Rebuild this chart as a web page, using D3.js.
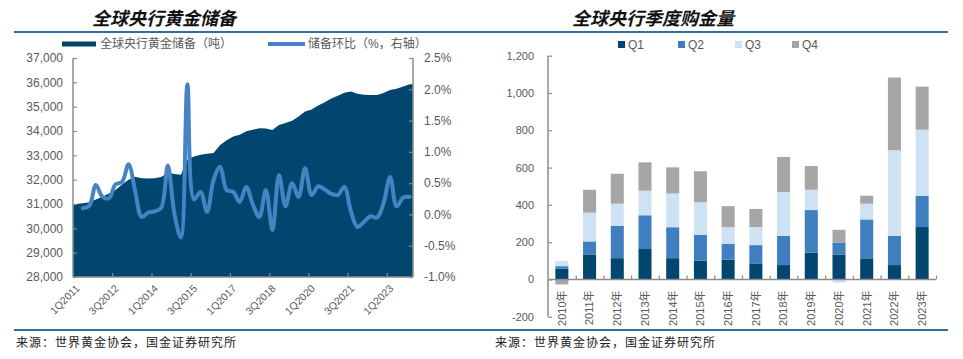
<!DOCTYPE html>
<html><head><meta charset="utf-8">
<script src="https://cdn.jsdelivr.net/npm/d3@7"></script>
<style>
body{margin:0;background:#fff;}
svg{display:block;}
text{font-family:"Liberation Sans","Noto Sans CJK SC",Arial,sans-serif;fill:#595959;}
</style></head><body>
<svg id="c" width="963" height="359"></svg>
<script>
// ---------- DATA ----------
const reserveYears = [2011,2012,2013,2014,2015,2016,2017,2018,2019,2020,2021,2022,2023];
const reserves = [31000,31030,31070,31180,31300,31430,31580,31800,32000,32120,32060,32050,32060,32110,32290,32230,
  32200,32820,32950,33020,33070,33100,33420,33620,33770,33850,33990,34050,34110,34100,34040,34250,
  34330,34420,34600,34800,34880,35050,35180,35340,35450,35570,35620,35530,35490,35480,35480,35560,
  35690,35740,35830,35920];
const qoq = [null,0.10,0.14,0.47,0.28,0.26,0.48,0.52,0.80,0.38,-0.04,0.03,0.05,0.11,0.78,0.02,
  -0.37,2.08,0.24,0.36,0.04,0.55,0.76,0.39,0.36,0.20,0.44,0.16,-0.04,0.39,-0.25,0.63,
  0.13,0.50,0.28,0.74,0.31,0.45,0.40,0.33,0.31,0.44,0.05,-0.20,-0.12,-0.03,-0.05,0.18,
  0.60,0.13,0.27,0.28];
const xTickLabels = ["1Q2011","3Q2012","1Q2014","3Q2015","1Q2017","3Q2018","1Q2020","3Q2021","1Q2023"];
const leftTicks = [28000,29000,30000,31000,32000,33000,34000,35000,36000,37000];
const rightTicks = [-1.0,-0.5,0.0,0.5,1.0,1.5,2.0,2.5];

const years = ["2010年","2011年","2012年","2013年","2014年","2015年","2016年","2017年","2018年","2019年","2020年","2021年","2022年","2023年"];
const q1 = [57,134,114,163,114,100,106,86,77,143,134,113,77,281];
const q2 = [14,70,174,181,166,140,86,98,156,229,64,209,156,168];
const q3 = [27,154,118,132,181,174,88,97,236,109,-18,84,460,354];
const q4 = [-27,123,161,152,140,166,113,97,188,127,68,43,390,231];
const seriesNames = ["Q1","Q2","Q3","Q4"];
const barTicks = [-200,0,200,400,600,800,1000,1200];

// ---------- STYLE ----------
const C_AREA="#00466e", C_LINE="#4583c4", AXIS="#8c8c8c", RULE="#2f6f9c";
const barColors = ["#00466e","#3f7fc0","#cfe2f3","#a6a6a6"];

const svg = d3.select("#c");

// quarters (categories)
const quarters = [];
reserveYears.forEach(y=>{for(let q=1;q<=4;q++) quarters.push(q+"Q"+y);});

// ---------- header / footer rules ----------
svg.append("line").attr("x1",14).attr("x2",948).attr("y1",32).attr("y2",32).attr("stroke",RULE).attr("stroke-width",2);
svg.append("line").attr("x1",14).attr("x2",948).attr("y1",330).attr("y2",330).attr("stroke",RULE).attr("stroke-width",2);

const titleStyle = t=>t.attr("text-anchor","middle").attr("font-size",18).attr("font-weight",700)
  .attr("font-style","italic").style("fill","#111").style("font-family","'Noto Sans CJK SC',sans-serif");
svg.append("text").attr("x",164).attr("y",25).text("全球央行黄金储备").call(titleStyle);
svg.append("text").attr("x",653).attr("y",25).text("全球央行季度购金量").call(titleStyle);

const srcStyle = t=>t.attr("font-size",12).style("fill","#222").style("letter-spacing","1px")
  .style("font-family","'Noto Sans CJK SC',sans-serif");
svg.append("text").attr("x",16).attr("y",347).text("来源：世界黄金协会，国金证券研究所").call(srcStyle);
svg.append("text").attr("x",495).attr("y",347).text("来源：世界黄金协会，国金证券研究所").call(srcStyle);

// ---------- LEFT CHART ----------
const L = {x0:73,x1:413,y0:58,y1:277};
const xi = d3.scaleLinear().domain([0,quarters.length]).range([L.x0,L.x1]);
const yL = d3.scaleLinear().domain([28000,37000]).range([L.y1,L.y0]);
const yR = d3.scaleLinear().domain([-1.0,2.5]).range([L.y1,L.y0]);

const areaPts = [{x:0,v:reserves[0]}].concat(reserves.map((v,i)=>({x:i+0.5,v}))).concat([{x:quarters.length,v:reserves[reserves.length-1]}]);
svg.append("path").datum(areaPts)
  .attr("d",d3.area().x(d=>xi(d.x)).y0(yL(28000)).y1(d=>yL(d.v)).curve(d3.curveLinear))
  .attr("fill",C_AREA);

const linePts = qoq.map((v,i)=>({x:i+0.5,v})).filter(d=>d.v!==null);
svg.append("path").datum(linePts)
  .attr("d",d3.line().x(d=>xi(d.x)).y(d=>yR(d.v)).curve(d3.curveCatmullRom.alpha(0.5)))
  .attr("fill","none").attr("stroke",C_LINE).attr("stroke-width",4).attr("stroke-linecap","round").attr("stroke-linejoin","round");

// left y axis
const gyl = svg.append("g").attr("transform",`translate(${L.x0},0)`)
  .call(d3.axisLeft(yL).tickValues(leftTicks).tickSize(-4).tickPadding(10).tickFormat(d3.format(",")));
// right y axis
const gyr = svg.append("g").attr("transform",`translate(${L.x1},0)`)
  .call(d3.axisRight(yR).tickValues(rightTicks).tickSize(-4).tickPadding(11)
    .tickFormat(d=>d3.format(".1f")(d).replace("−","-")+"%"));
// bottom axis (ticks between categories every 6)
const gxl = svg.append("g").attr("transform",`translate(0,${L.y1})`)
  .call(d3.axisBottom(xi).tickValues(d3.range(6,quarters.length,6)).tickSize(-4).tickFormat(""));
[gyl,gyr,gxl].forEach(g=>{
  g.select(".domain").attr("stroke",AXIS).attr("stroke-width",1.5);
  g.selectAll(".tick line").attr("stroke",AXIS).attr("stroke-width",1.2);
  g.selectAll("text").attr("font-size",12).style("fill","#595959").style("font-family","'Liberation Sans',Arial,sans-serif");
});
gxl.select(".domain").attr("d",`M${L.x0},0H${L.x1}`);
gyl.select(".domain").attr("d",`M0,${L.y0}V${L.y1}`);
gyr.select(".domain").attr("d",`M0,${L.y0}V${L.y1}`);

// rotated quarter labels
svg.append("g").selectAll("text").data(xTickLabels).join("text")
  .attr("transform",d=>`translate(${xi(quarters.indexOf(d)+0.5)+4},${L.y1+12}) rotate(-45)`)
  .attr("text-anchor","end").attr("font-size",10.5).text(d=>d);

// left legend
svg.append("rect").attr("x",62).attr("y",41.5).attr("width",34).attr("height",5).attr("fill",C_AREA);
svg.append("text").attr("x",100).attr("y",48).attr("font-size",12).text("全球央行黄金储备（吨）");
svg.append("line").attr("x1",268).attr("x2",305).attr("y1",44).attr("y2",44).attr("stroke",C_LINE).attr("stroke-width",4);
svg.append("text").attr("x",308).attr("y",48).attr("font-size",12).text("储备环比（%，右轴）");

// ---------- RIGHT CHART ----------
const R = {x0:548,x1:936,y0:55.7,y1:316.7};
const xb = d3.scaleBand().domain(years).range([R.x0,R.x1]).paddingInner(0.53).paddingOuter(0.265);
const yb = d3.scaleLinear().domain([-200,1200]).range([R.y1,R.y0]);
const rows = years.map((y,i)=>({year:y,Q1:q1[i],Q2:q2[i],Q3:q3[i],Q4:q4[i]}));
const stacked = d3.stack().keys(seriesNames).offset(d3.stackOffsetDiverging)(rows);

svg.append("g").selectAll("g").data(stacked).join("g").attr("fill",(d,i)=>barColors[i])
  .selectAll("rect").data(d=>d).join("rect")
  .attr("x",d=>xb(d.data.year)).attr("width",xb.bandwidth())
  .attr("y",d=>yb(Math.max(d[0],d[1]))).attr("height",d=>Math.abs(yb(d[0])-yb(d[1])));

const xbi = d3.scaleLinear().domain([0,years.length]).range([R.x0,R.x1]);
const gby = svg.append("g").attr("transform",`translate(${R.x0},0)`)
  .call(d3.axisLeft(yb).tickValues(barTicks).tickSize(-4).tickPadding(14)
    .tickFormat(d=>d3.format(",")(d).replace("−","-")));
const gbx = svg.append("g").attr("transform",`translate(0,${yb(0)})`)
  .call(d3.axisBottom(xbi).tickValues(d3.range(1,years.length+1)).tickSize(-4).tickFormat(""));
[gby,gbx].forEach(g=>{
  g.select(".domain").attr("stroke",AXIS).attr("stroke-width",1.5);
  g.selectAll(".tick line").attr("stroke",AXIS).attr("stroke-width",1.2);
  g.selectAll("text").attr("font-size",11).style("fill","#595959").style("font-family","'Liberation Sans',Arial,sans-serif");
});
gby.select(".domain").attr("d",`M0,${R.y0}V${R.y1}`);
gbx.select(".domain").attr("d",`M${R.x0},0H${R.x1}`);

svg.append("g").selectAll("text").data(years).join("text")
  .attr("transform",d=>`translate(${xb(d)+xb.bandwidth()/2},${yb(0)+11}) rotate(-90)`)
  .attr("text-anchor","end").attr("dy","0.35em").attr("font-size",11).text(d=>d);

// right legend
const legX = [618,678,735,792];
seriesNames.forEach((s,i)=>{
  svg.append("rect").attr("x",legX[i]).attr("y",41).attr("width",7).attr("height",7).attr("fill",barColors[i]);
  svg.append("text").attr("x",legX[i]+10).attr("y",48.5).attr("font-size",12).text(s);
});
</script>
</body></html>
